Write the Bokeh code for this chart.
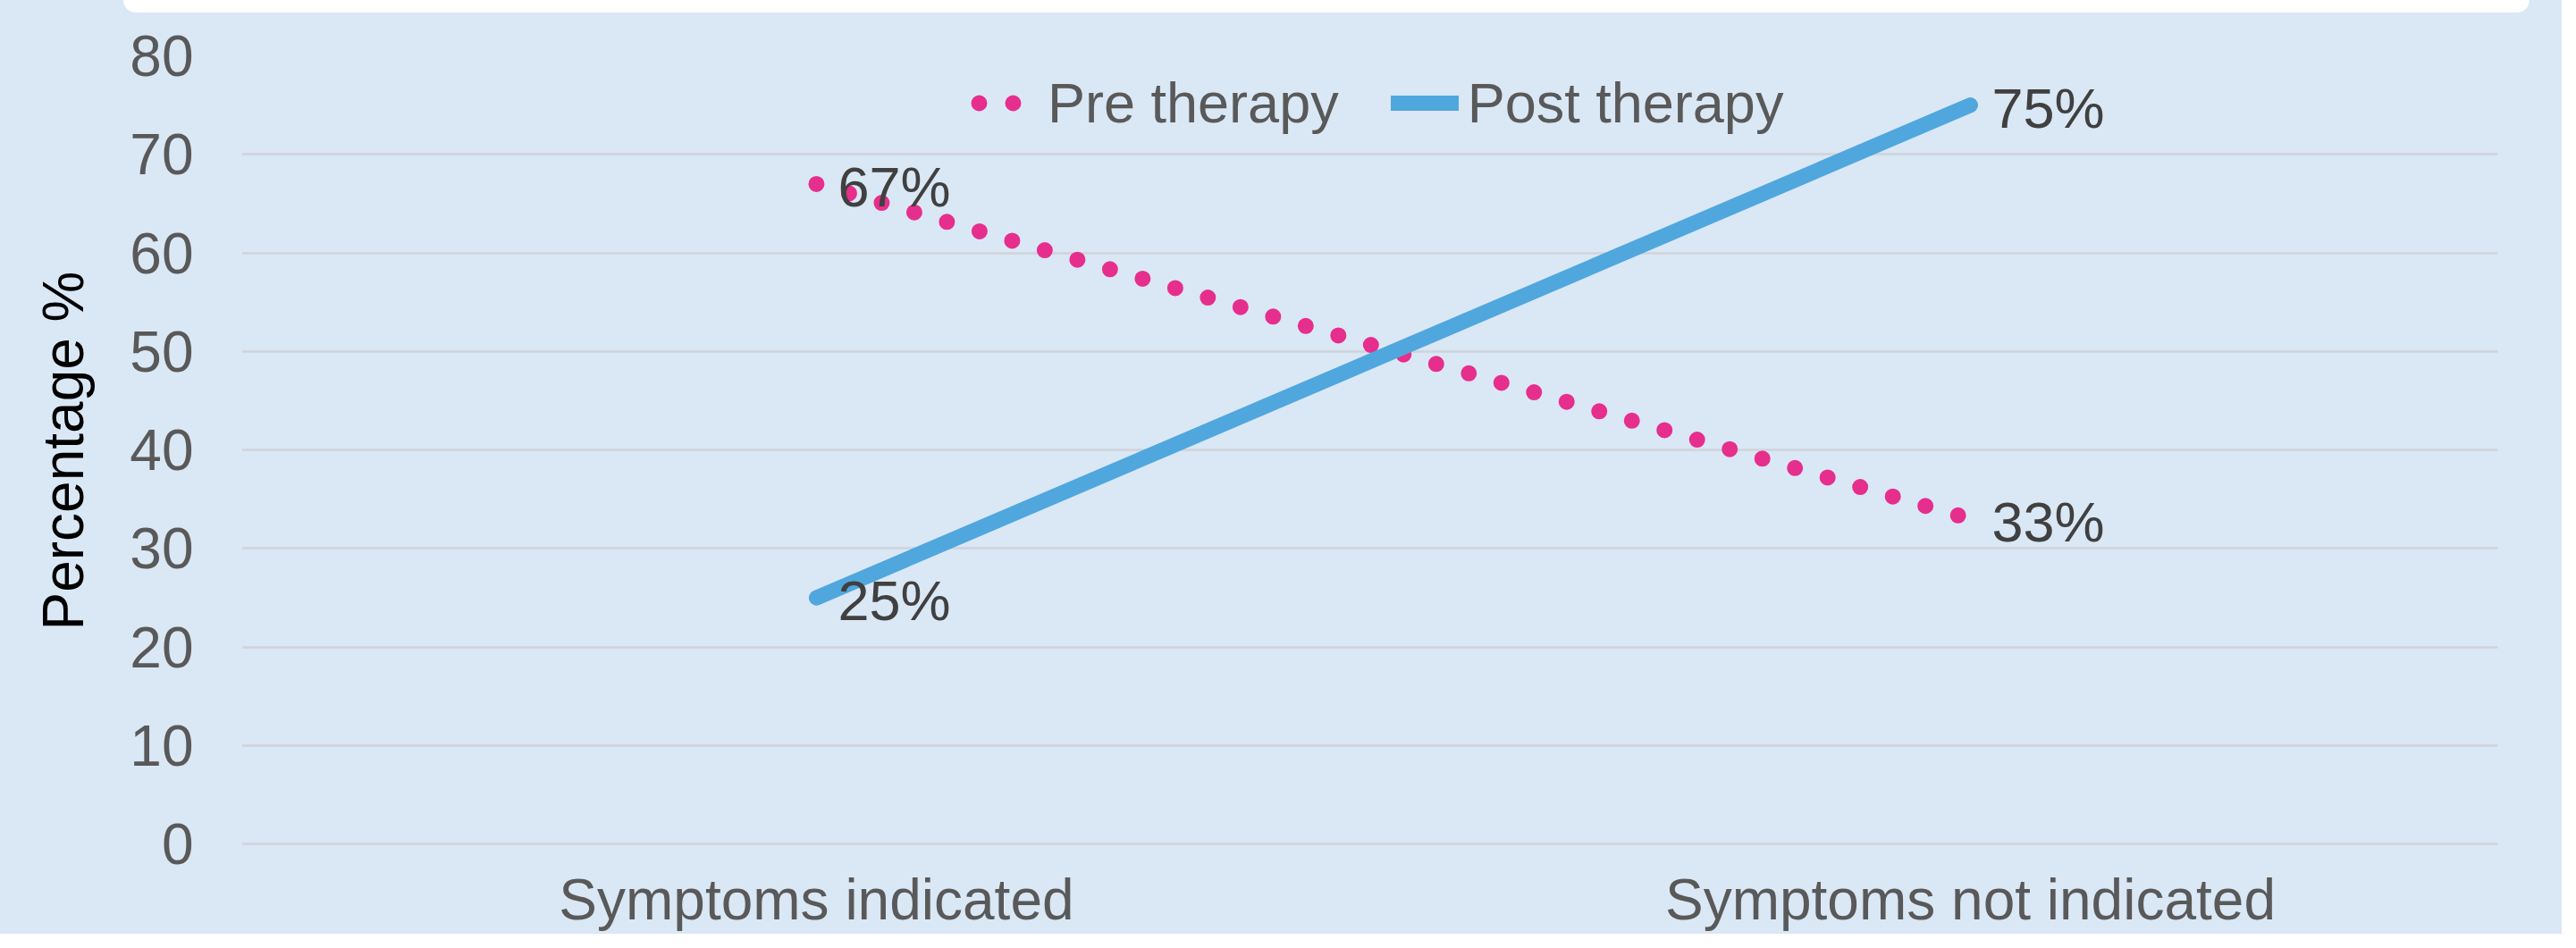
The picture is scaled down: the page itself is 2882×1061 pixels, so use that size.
from bokeh.plotting import figure
from bokeh.models import (ColumnDataSource, Range1d, FixedTicker, Legend, LegendItem, Div)
from bokeh.layouts import column
from bokeh.core.properties import value
from bokeh.embed import file_html
from bokeh.resources import INLINE

# ---- data ----
categories = ["Symptoms indicated", "Symptoms not indicated"]
pre_therapy = [67, 33]
post_therapy = [25, 75]
y_ticks = [0, 10, 20, 30, 40, 50, 60, 70, 80]

FONT = "Liberation Sans"
BG = "#DAE7F5"
PINK = "#E62E8D"
BLUE = "#4FA7DD"

xpos = list(range(len(categories)))

BAND = 14
p = figure(width=2866, height=1045 - BAND, output_backend="svg", toolbar_location=None,
           x_range=Range1d(-0.498, 1.457), y_range=Range1d(-0.15, 80),
           min_border_left=270, min_border_right=72, min_border_top=62 - BAND,
           min_border_bottom=99)
p.background_fill_color = BG
p.border_fill_color = BG
p.outline_line_color = None

pre_src = ColumnDataSource(dict(x=xpos, y=pre_therapy,
                                t=[f"{v}%" for v in pre_therapy]))
post_src = ColumnDataSource(dict(x=xpos, y=post_therapy,
                                 t=[f"{v}%" for v in post_therapy]))

r_pre = p.line("x", "y", source=pre_src, line_color=PINK, line_width=18,
               line_dash="0 38", line_cap="round")
r_post = p.line("x", "y", source=post_src, line_color=BLUE, line_width=17,
                line_cap="round", line_join="round")

# hidden copies, used only for the legend swatches
leg_pre = p.line("x", "y", source=pre_src, line_color=PINK, line_width=18,
                 line_dash="0 38", line_dash_offset=29, line_cap="round", visible=False)
leg_post = p.line("x", "y", source=post_src, line_color=BLUE, line_width=17,
                  line_cap="round", visible=False)

for src in (pre_src, post_src):
    p.text("x", "y", text="t", source=src, text_font=value(FONT),
           text_font_size="63px", text_color="#404040", text_align="left",
           text_baseline="middle", x_offset=24, y_offset=3)

# axes
p.xaxis.ticker = FixedTicker(ticks=xpos)
p.xaxis.major_label_overrides = {i: c for i, c in enumerate(categories)}
p.yaxis.ticker = FixedTicker(ticks=y_ticks)
for ax in (p.xaxis[0], p.yaxis[0]):
    ax.axis_line_color = None
    ax.major_tick_line_color = None
    ax.minor_tick_line_color = None
    ax.major_tick_out = 0
    ax.major_tick_in = 0
    ax.minor_tick_out = 0
    ax.major_label_text_font = FONT
    ax.major_label_text_font_size = "64px"
    ax.major_label_text_color = "#595959"
p.yaxis.major_label_standoff = 54
p.xaxis.major_label_standoff = 24
p.xaxis.major_label_text_line_height = 0.6
p.yaxis.axis_label = "Percentage %"
p.yaxis.axis_label_text_font = FONT
p.yaxis.axis_label_text_font_size = "64px"
p.yaxis.axis_label_text_font_style = "normal"
p.yaxis.axis_label_text_color = "#000000"
p.yaxis.axis_label_standoff = 35

p.xgrid.grid_line_color = None
p.ygrid.grid_line_color = "#CFD4DA"
p.ygrid.grid_line_width = 2.5

legend = Legend(items=[LegendItem(label="Pre therapy", renderers=[leg_pre]),
                       LegendItem(label="Post therapy", renderers=[leg_post])],
                orientation="horizontal", location=(816, 795),
                glyph_width=76, glyph_height=40, label_standoff=10, spacing=58,
                padding=0, margin=0, border_line_color=None,
                background_fill_alpha=0, inactive_fill_alpha=0,
                label_text_font=FONT, label_text_font_size="63px",
                label_text_color="#595959")
p.add_layout(legend)

# white rounded band along the top edge (page decoration)
band = Div(text="", width=2692, height=BAND, margin=(0, 0, 0, 138),
           styles={"background-color": "white",
                   "border-radius": "0 0 45px 45px"})

layout = column(band, p, spacing=0, styles={"background-color": BG})

open("out.html", "w").write(file_html(layout, INLINE))
